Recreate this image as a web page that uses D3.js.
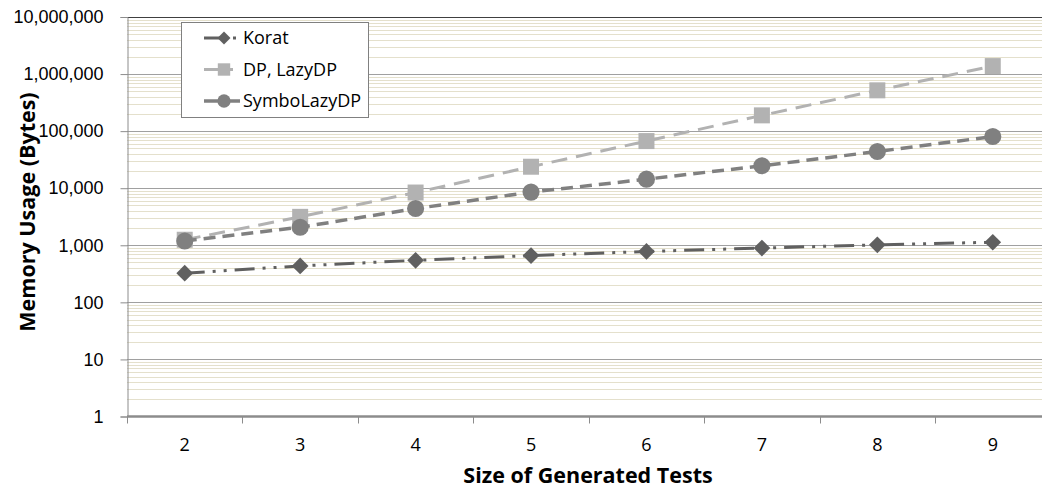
<!DOCTYPE html>
<html><head><meta charset="utf-8">
<script src="https://cdn.jsdelivr.net/npm/d3@7"></script>
<style>body{margin:0;background:#fff;}svg{display:block;}</style>
</head><body>
<svg id="chart" width="1042" height="489"></svg>
<script>
const sizes = [2, 3, 4, 5, 6, 7, 8, 9];
const korat = [325, 435, 545, 660, 780, 895, 1020, 1130];
const dpLazyDP = [1250, 3150, 8400, 23800, 67000, 189000, 519000, 1380000];
const symboLazyDP = [1190, 2070, 4400, 8550, 14400, 24700, 44000, 80400];
const yTickValues = [1, 10, 100, 1000, 10000, 100000, 1000000, 10000000];
const seriesNames = ["Korat", "DP, LazyDP", "SymboLazyDP"];

const svg = d3.select("#chart");
const L = 127, T = 17, B = 416.5, R = 1050.5;
const x = d3.scaleBand().domain(sizes).range([L, R]);
const y = d3.scaleLog().domain([1, 1e7]).range([B, T]);

// minor gridlines
const minor = [];
for (let e = 0; e < 7; e++) for (let m = 2; m <= 9; m++) minor.push(m * Math.pow(10, e));
svg.append("g").selectAll("line").data(minor).join("line")
  .attr("x1", L).attr("x2", R).attr("y1", d => Math.round(y(d)) + 0.5).attr("y2", d => Math.round(y(d)) + 0.5)
  .attr("stroke", "#e4e0cc").attr("stroke-width", 1);
// major gridlines
svg.append("g").selectAll("line").data(yTickValues.slice(1, -1)).join("line")
  .attr("x1", L).attr("x2", R).attr("y1", d => Math.round(y(d)) + 0.5).attr("y2", d => Math.round(y(d)) + 0.5)
  .attr("stroke", "#a0a0a0").attr("stroke-width", 1);
// top border
svg.append("line").attr("x1", L).attr("x2", R).attr("y1", T + 0.5).attr("y2", T + 0.5)
  .attr("stroke", "#404040").attr("stroke-width", 1);

// y axis
const yAxis = d3.axisLeft(y).tickValues(yTickValues).tickSize(7).tickPadding(17)
  .tickFormat(d3.format(","));
const gy = svg.append("g").attr("transform", `translate(${L + 0.5},0)`).call(yAxis);
gy.select(".domain").attr("stroke", "#8c8c8c");
gy.selectAll(".tick line").attr("stroke", "#8c8c8c");
gy.selectAll(".tick text").style("font-family", "'Liberation Sans', Arial, sans-serif")
  .style("font-size", "18px").attr("fill", "#000");

// x axis
const xAxis = d3.axisBottom(x).tickSize(0).tickPadding(22);
const gx = svg.append("g").attr("transform", `translate(0,${B})`).call(xAxis);
gx.select(".domain").remove();
gx.selectAll(".tick text").style("font-family", "'Open Sans', 'Liberation Sans', sans-serif")
  .style("font-size", "18px").attr("fill", "#000");
// x tick marks at band boundaries
const bounds = sizes.map(d => x(d)).concat([R]);
svg.append("g").selectAll("line").data(bounds).join("line")
  .attr("x1", d => Math.round(d) + 0.5).attr("x2", d => Math.round(d) + 0.5)
  .attr("y1", B).attr("y2", B + 7).attr("stroke", "#8c8c8c");
svg.append("line").attr("x1", L).attr("x2", R).attr("y1", B).attr("y2", B)
  .attr("stroke", "#8c8c8c").attr("stroke-width", 2.5);

// axis titles
svg.append("text").attr("x", 588).attr("y", 483).attr("text-anchor", "middle")
  .style("font-family", "'Open Sans', 'Liberation Sans', sans-serif").style("font-weight", "bold")
  .style("font-size", "21.5px").text("Size of Generated Tests");
svg.append("text").attr("transform", "translate(35,212) rotate(-90)").attr("text-anchor", "middle")
  .style("font-family", "'Open Sans', 'Liberation Sans', sans-serif").style("font-weight", "bold")
  .style("font-size", "21.5px").text("Memory Usage (Bytes)");

const styles = [
  {name: seriesNames[0], data: korat, color: "#606060", dash: "20,8,3,8,3,8", width: 3, marker: "diamond"},
  {name: seriesNames[1], data: dpLazyDP, color: "#b2b2b2", dash: "16,9", width: 3, marker: "square"},
  {name: seriesNames[2], data: symboLazyDP, color: "#808080", dash: "12,7", width: 3.5, marker: "circle"}
];
const symType = {diamond: d3.symbolSquare, square: d3.symbolSquare, circle: d3.symbolCircle};
const symSize = {diamond: 140, square: 256, circle: 230};
const symRot = {diamond: 45, square: 0, circle: 0};

const cx = d => x(d) + x.bandwidth() / 2;
const drawOrder = [1, 2, 0];
drawOrder.forEach(i => {
  const s = styles[i];
  const line = d3.line().x((d, j) => cx(sizes[j])).y(d => y(d));
  svg.append("path").datum(s.data).attr("d", line).attr("fill", "none")
    .attr("stroke", s.color).attr("stroke-width", s.width).attr("stroke-dasharray", s.dash);
});
drawOrder.forEach(i => {
  const s = styles[i];
  svg.append("g").selectAll("path").data(s.data).join("path")
    .attr("transform", (d, j) => `translate(${cx(sizes[j])},${y(d)}) rotate(${symRot[s.marker]})`)
    .attr("d", d3.symbol().type(symType[s.marker]).size(symSize[s.marker]))
    .attr("fill", s.color);
});

// legend
const lg = svg.append("g");
lg.append("rect").attr("x", 181.5).attr("y", 22.5).attr("width", 187).attr("height", 95)
  .attr("fill", "#fff").attr("stroke", "#808080");
styles.forEach((s, i) => {
  const ly = 38 + i * 31.5;
  lg.append("line").attr("x1", 204).attr("x2", 240).attr("y1", ly).attr("y2", ly)
    .attr("stroke", s.color).attr("stroke-width", s.width)
    .attr("stroke-dasharray", i === 0 ? "22,7,3,10" : (i === 1 ? "20,6,3,10" : null));
  lg.append("path").attr("transform", `translate(224,${ly}) rotate(${symRot[s.marker]})`)
    .attr("d", d3.symbol().type(symType[s.marker]).size(symSize[s.marker] * 0.6)).attr("fill", s.color);
  lg.append("text").attr("x", 243).attr("y", ly).attr("dy", "0.35em")
    .style("font-family", "'Open Sans', 'Liberation Sans', sans-serif").style("font-size", "18px").text(s.name);
});
</script>
</body></html>
